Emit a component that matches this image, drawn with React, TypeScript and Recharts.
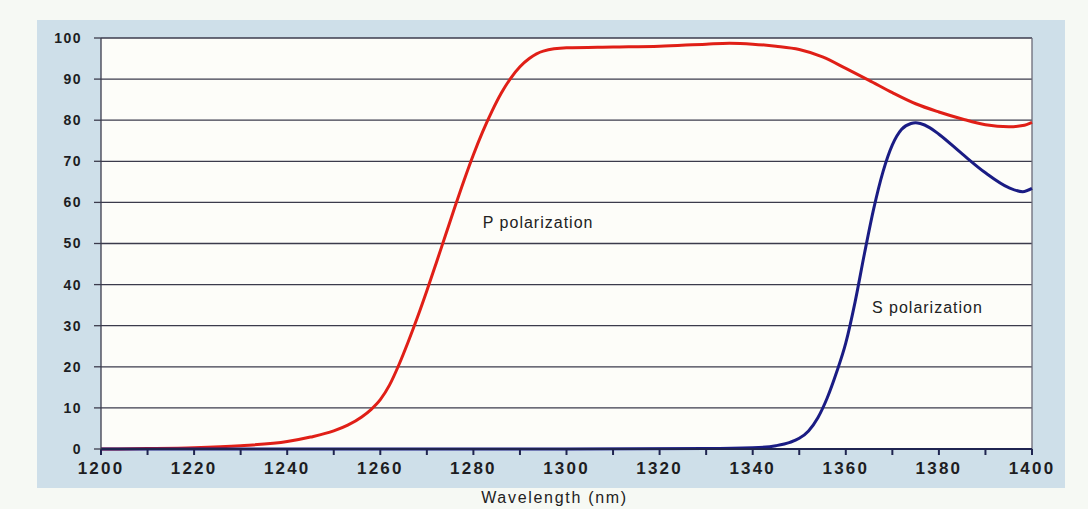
import { LineChart, Line, XAxis, YAxis, CartesianGrid, ReferenceDot, ReferenceLine } from 'recharts';

// P polarization transmission (%) vs wavelength (nm)
const pWavelength = [
  1200, 1210, 1220, 1230, 1240, 1245, 1250, 1253, 1256, 1258, 1260, 1262, 1264, 1266, 1268, 1270,
  1272, 1274, 1276, 1278, 1280, 1282, 1284, 1286, 1288, 1290, 1292, 1295, 1300, 1310, 1320, 1330,
  1335, 1340, 1345, 1350, 1355, 1360, 1365, 1370, 1375, 1380, 1385, 1390, 1395, 1398, 1400,
];
const pValue = [
  0, 0.1, 0.3, 0.8, 1.8, 2.9, 4.4, 5.8, 7.8, 9.6, 12.0, 15.6, 20.5, 26.1, 32.1, 38.5,
  45.2, 52, 58.8, 65.4, 71.6, 77.2, 82.2, 86.6, 90.2, 93, 95, 96.8, 97.6, 97.8, 98, 98.5,
  98.7, 98.5, 98, 97.2, 95.4, 92.6, 89.7, 86.7, 84, 82, 80.3, 78.9, 78.4, 78.7, 79.5,
];

// S polarization transmission (%) vs wavelength (nm)
const sWavelength = [
  1200, 1250, 1300, 1330, 1340, 1345, 1348, 1350, 1352, 1354, 1356, 1358, 1360, 1362, 1364, 1366,
  1368, 1370, 1372, 1374, 1375, 1376, 1378, 1380, 1385, 1390, 1395, 1398, 1400,
];
const sValue = [
  0, 0, 0, 0.1, 0.3, 0.8, 1.6, 2.6, 4.4, 7.6, 12.4, 18.6, 25.8, 35.8, 47.5, 58.5,
  67.5, 74, 77.8, 79.2, 79.4, 79.2, 78.2, 76.6, 71.8, 67.2, 63.6, 62.6, 63.4,
];

const xTicks = [
  1200, 1210, 1220, 1230, 1240, 1250, 1260, 1270, 1280, 1290, 1300, 1310, 1320, 1330, 1340, 1350,
  1360, 1370, 1380, 1390, 1400,
];
const yTicks = [0, 10, 20, 30, 40, 50, 60, 70, 80, 90, 100];

const pData = pWavelength.map((x, i) => ({ x, v: pValue[i] }));
const sData = sWavelength.map((x, i) => ({ x, v: sValue[i] }));

const font = 'Arial, "Liberation Sans", sans-serif';

export default function App() {
  return (
    <div
      style={{
        position: 'absolute',
        left: 0,
        top: 0,
        width: 1088,
        height: 509,
        background: '#f6f9f4',
        fontFamily: font,
      }}
    >
      <div
        style={{
          position: 'absolute',
          left: 37,
          top: 20,
          width: 1028,
          height: 468,
          background: '#cedfe9',
        }}
      />
      <div style={{ position: 'absolute', left: 0, top: 0 }}>
        <LineChart width={1088} height={509} margin={{ top: 38, right: 56, left: 41, bottom: 30 }}>
          <CartesianGrid
            vertical={false}
            stroke="#3b3b4c"
            strokeWidth={1.3}
            fill="#fdfdf9"
            fillOpacity={1}
          />
          <XAxis
            type="number"
            dataKey="x"
            domain={[1200, 1400]}
            ticks={xTicks}
            interval={0}
            tickSize={6}
            tickMargin={7}
            height={30}
            stroke="#1f2450"
            strokeWidth={2}
            tick={{ fontSize: 17, fontWeight: 700, fill: '#1d1d22', letterSpacing: 2.2, fontFamily: font }}
            tickFormatter={(v: number) => (v % 20 === 0 ? String(v) : '')}
            allowDuplicatedCategory={false}
            label={{
              value: 'Wavelength (nm)',
              position: 'bottom',
              offset: 13,
              dx: -12,
              style: { fontSize: 16, fill: '#222', letterSpacing: 1.7, fontFamily: font },
            }}
          />
          <YAxis
            type="number"
            domain={[0, 100]}
            ticks={yTicks}
            interval={0}
            width={60}
            tickSize={7}
            tickMargin={12}
            stroke="#3b3b4c"
            strokeWidth={1.3}
            tick={{ fontSize: 14, fontWeight: 700, fill: '#1d1d22', letterSpacing: 1.5, fontFamily: font }}
          />
          <ReferenceLine x={1400} stroke="#6a6a78" strokeWidth={1.3} />
          <Line
            data={pData}
            dataKey="v"
            type="monotone"
            stroke="#e01f17"
            strokeWidth={3}
            dot={false}
            isAnimationActive={false}
          />
          <Line
            data={sData}
            dataKey="v"
            type="monotone"
            stroke="#1a1c84"
            strokeWidth={3}
            dot={false}
            isAnimationActive={false}
          />
          <ReferenceDot
            x={1281.8}
            y={55.2}
            r={1}
            fill="none"
            stroke="none"
            label={{
              value: 'P polarization',
              position: 'right',
              offset: 0,
              style: { fontSize: 16, fill: '#222', letterSpacing: 1, fontFamily: font },
            }}
          />
          <ReferenceDot
            x={1365.4}
            y={34.5}
            r={1}
            fill="none"
            stroke="none"
            label={{
              value: 'S polarization',
              position: 'right',
              offset: 0,
              style: { fontSize: 16, fill: '#222', letterSpacing: 1, fontFamily: font },
            }}
          />
        </LineChart>
      </div>
    </div>
  );
}
